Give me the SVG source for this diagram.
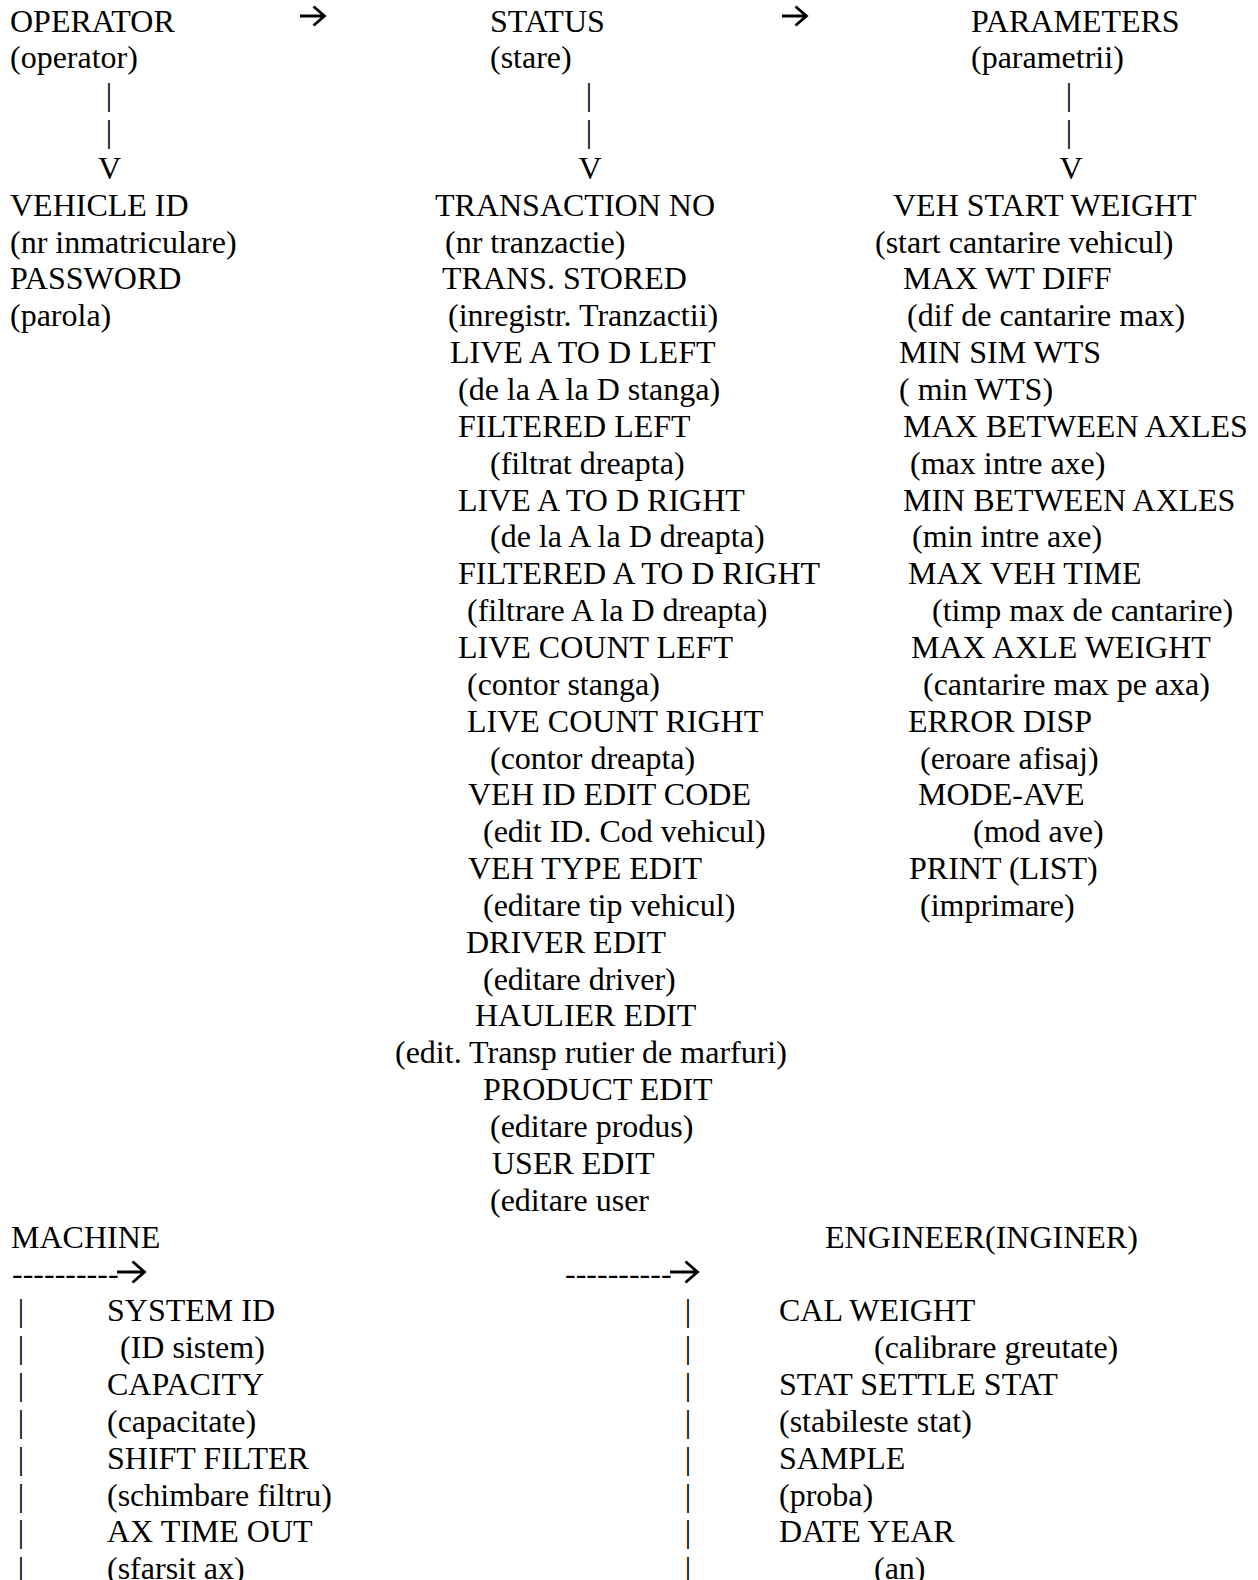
<svg xmlns="http://www.w3.org/2000/svg" width="1258" height="1580" viewBox="0 0 1258 1580">
<style>
text{font-family:"Liberation Serif","Times New Roman",serif;font-size:32px;fill:#000}
.c{text-anchor:middle}
.arr{fill:none;stroke:#000;stroke-width:2.8;stroke-linecap:butt;stroke-linejoin:miter}
</style>
<rect width="1258" height="1580" fill="#fff"/>
<g id="connectors">
<path class="arr" d="M300,16H324M313.5,6.5L324.5,16L313.5,25.5"/>
<path class="arr" d="M782,16H806M795.5,6.5L806.5,16L795.5,25.5"/>
<text class="c" x="109" y="105.2">|</text>
<text class="c" x="109" y="142.05">|</text>
<text class="c" x="109.5" y="178.9">V</text>
<text class="c" x="589" y="105.2">|</text>
<text class="c" x="589" y="142.05">|</text>
<text class="c" x="590" y="178.9">V</text>
<text class="c" x="1069" y="105.2">|</text>
<text class="c" x="1069" y="142.05">|</text>
<text class="c" x="1071" y="178.9">V</text>
<text x="12" y="1284.4">----------</text>
<path class="arr" d="M117,1272H144M132.5,1261.5L144.5,1272L132.5,1282.5"/>
<text x="565" y="1284.4">----------</text>
<path class="arr" d="M670,1272H697M685.5,1261.5L697.5,1272L685.5,1282.5"/>
<text class="c" x="21" y="1321.25">|</text>
<text class="c" x="21" y="1358.1">|</text>
<text class="c" x="21" y="1394.95">|</text>
<text class="c" x="21" y="1431.8">|</text>
<text class="c" x="21" y="1468.65">|</text>
<text class="c" x="21" y="1505.5">|</text>
<text class="c" x="21" y="1542.35">|</text>
<text class="c" x="21" y="1579.2">|</text>
<text class="c" x="688" y="1321.25">|</text>
<text class="c" x="688" y="1358.1">|</text>
<text class="c" x="688" y="1394.95">|</text>
<text class="c" x="688" y="1431.8">|</text>
<text class="c" x="688" y="1468.65">|</text>
<text class="c" x="688" y="1505.5">|</text>
<text class="c" x="688" y="1542.35">|</text>
<text class="c" x="688" y="1579.2">|</text>
</g>
<g id="operator"><text x="10" y="31.5">OPERATOR</text><text x="10" y="68.35">(operator)</text></g>
<g id="status"><text x="490" y="31.5">STATUS</text><text x="490" y="68.35">(stare)</text></g>
<g id="parameters"><text x="971" y="31.5">PARAMETERS</text><text x="971" y="68.35">(parametrii)</text></g>
<g id="vehicle-id"><text x="10" y="215.75">VEHICLE ID</text><text x="10" y="252.6">(nr inmatriculare)</text></g>
<g id="password"><text x="10" y="289.45">PASSWORD</text><text x="10" y="326.3">(parola)</text></g>
<g id="transaction-no"><text x="435" y="215.75">TRANSACTION NO</text><text x="445" y="252.6">(nr tranzactie)</text></g>
<g id="trans-stored"><text x="442" y="289.45">TRANS. STORED</text><text x="448" y="326.3">(inregistr. Tranzactii)</text></g>
<g id="live-a-to-d-left"><text x="450" y="363.15">LIVE A TO D LEFT</text><text x="458" y="400">(de la A la D stanga)</text></g>
<g id="filtered-left"><text x="458" y="436.85">FILTERED LEFT</text><text x="490" y="473.7">(filtrat dreapta)</text></g>
<g id="live-a-to-d-right"><text x="458" y="510.55">LIVE A TO D RIGHT</text><text x="490" y="547.4">(de la A la D dreapta)</text></g>
<g id="filtered-a-to-d-right"><text x="458" y="584.25">FILTERED A TO D RIGHT</text><text x="467" y="621.1">(filtrare A la D dreapta)</text></g>
<g id="live-count-left"><text x="458" y="657.95">LIVE COUNT LEFT</text><text x="467" y="694.8">(contor stanga)</text></g>
<g id="live-count-right"><text x="467" y="731.65">LIVE COUNT RIGHT</text><text x="490" y="768.5">(contor dreapta)</text></g>
<g id="veh-id-edit-code"><text x="468" y="805.35">VEH ID EDIT CODE</text><text x="483" y="842.2">(edit ID. Cod vehicul)</text></g>
<g id="veh-type-edit"><text x="468" y="879.05">VEH TYPE EDIT</text><text x="483" y="915.9">(editare tip vehicul)</text></g>
<g id="driver-edit"><text x="466" y="952.75">DRIVER EDIT</text><text x="483" y="989.6">(editare driver)</text></g>
<g id="haulier-edit"><text x="475" y="1026.45">HAULIER EDIT</text><text x="395" y="1063.3">(edit. Transp rutier de marfuri)</text></g>
<g id="product-edit"><text x="483" y="1100.15">PRODUCT EDIT</text><text x="490" y="1137">(editare produs)</text></g>
<g id="user-edit"><text x="492" y="1173.85">USER EDIT</text><text x="490" y="1210.7">(editare user</text></g>
<g id="veh-start-weight"><text x="893" y="215.75">VEH START WEIGHT</text><text x="875" y="252.6">(start cantarire vehicul)</text></g>
<g id="max-wt-diff"><text x="903" y="289.45">MAX WT DIFF</text><text x="907" y="326.3">(dif de cantarire max)</text></g>
<g id="min-sim-wts"><text x="899" y="363.15">MIN SIM WTS</text><text x="899" y="400">( min WTS)</text></g>
<g id="max-between-axles"><text x="903" y="436.85">MAX BETWEEN AXLES</text><text x="910" y="473.7">(max intre axe)</text></g>
<g id="min-between-axles"><text x="903" y="510.55">MIN BETWEEN AXLES</text><text x="912" y="547.4">(min intre axe)</text></g>
<g id="max-veh-time"><text x="908" y="584.25">MAX VEH TIME</text><text x="932" y="621.1">(timp max de cantarire)</text></g>
<g id="max-axle-weight"><text x="911" y="657.95">MAX AXLE WEIGHT</text><text x="923" y="694.8">(cantarire max pe axa)</text></g>
<g id="error-disp"><text x="908" y="731.65">ERROR DISP</text><text x="920" y="768.5">(eroare afisaj)</text></g>
<g id="mode-ave"><text x="918" y="805.35">MODE-AVE</text><text x="973" y="842.2">(mod ave)</text></g>
<g id="print-list"><text x="909" y="879.05">PRINT (LIST)</text><text x="920" y="915.9">(imprimare)</text></g>
<g id="machine"><text x="11" y="1247.55">MACHINE</text></g>
<g id="engineer"><text x="825" y="1247.55">ENGINEER(INGINER)</text></g>
<g id="system-id"><text x="107" y="1321.25">SYSTEM ID</text><text x="120" y="1358.1">(ID sistem)</text></g>
<g id="capacity"><text x="107" y="1394.95">CAPACITY</text><text x="107" y="1431.8">(capacitate)</text></g>
<g id="shift-filter"><text x="107" y="1468.65">SHIFT FILTER</text><text x="107" y="1505.5">(schimbare filtru)</text></g>
<g id="ax-time-out"><text x="107" y="1542.35">AX TIME OUT</text><text x="107" y="1579.2">(sfarsit ax)</text></g>
<g id="cal-weight"><text x="779" y="1321.25">CAL WEIGHT</text><text x="874" y="1358.1">(calibrare greutate)</text></g>
<g id="stat-settle-stat"><text x="779" y="1394.95">STAT SETTLE STAT</text><text x="779" y="1431.8">(stabileste stat)</text></g>
<g id="sample"><text x="779" y="1468.65">SAMPLE</text><text x="779" y="1505.5">(proba)</text></g>
<g id="date-year"><text x="779" y="1542.35">DATE YEAR</text><text x="874" y="1579.2">(an)</text></g>
</svg>
